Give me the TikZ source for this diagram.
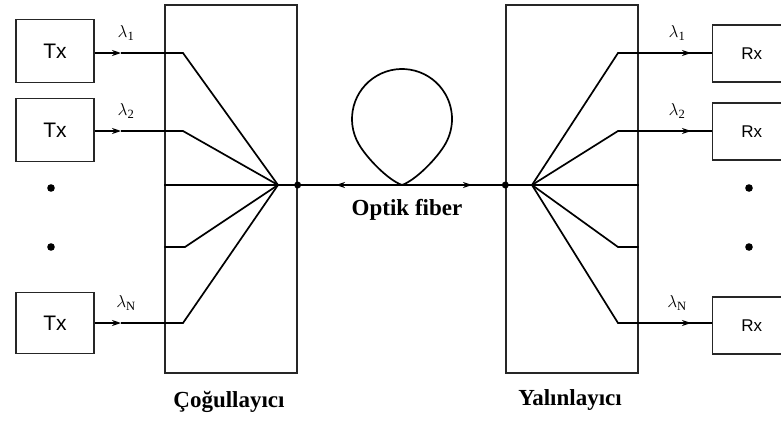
\documentclass[tikz,border=0pt]{standalone}
\usepackage{fontspec}
\setmainfont{Liberation Serif}
\newfontfamily\boxfont{Liberation Sans}
\usetikzlibrary{arrows.meta}
\tikzset{
  unitbox/.style={draw=black!85, line width=1.3pt, minimum width=78pt,
    inner sep=0pt, font=\boxfont\fontsize{21}{21}\selectfont},
  blockbox/.style={draw=black!85, line width=1.3pt, minimum width=132pt,
    minimum height=368pt, inner sep=0pt},
  fiber/.style={line width=1.7pt},
  tip/.style={fiber, -{Stealth[length=9pt,width=6pt]}},
  wave/.style={font=\fontsize{18}{18}\selectfont},
  caption/.style={font=\bfseries\fontsize{23}{23}\selectfont}
}
\begin{document}
\begin{tikzpicture}[x=1pt,y=-1pt]
    \useasboundingbox (0,0) rectangle (781,421);
    \clip (0,0) rectangle (781,421);
    % multiplexer and demultiplexer
    \node[blockbox] (mux) at (231,189) {};
    \node[blockbox] (demux) at (572,189) {};
    \node[caption] (muxname) at (229,402) {Çoğullayıcı};
    \node[caption] (demuxname) at (570,400) {Yalınlayıcı};
    \coordinate (mj) at (278,185);
    \coordinate (dj) at (532,185);
    \coordinate (md) at (mux.east |- mj);
    \coordinate (dd) at (demux.west |- dj);
    % transmitters
    \foreach \n/\y/\h in {1/51/63, 2/130/63, N/323/61} {
      \node[unitbox, minimum height=\h pt] (tx\n) at (55,\y) {Tx};
    }
    % receivers
    \foreach \n/\y in {1/53.5, 2/131.5, N/325.5} {
      \node[unitbox, minimum height=57pt, anchor=west,
        font=\boxfont\fontsize{17}{17}\selectfont] (rx\n) at (712,\y) {Rx};
    }
    % channels
    \foreach \n/\y in {1/53, 2/131, N/323} {
      \coordinate (ta\n) at (121,\y);
      \coordinate (ra\n) at (691,\y);
      \draw[tip] (tx\n.east |- ta\n) -- (ta\n);
      \draw[fiber] (ta\n) -- (183,\y) -- (mj);
      \draw[fiber] (dj) -- (618,\y) -- (ra\n);
      \draw[tip] (rx\n.west |- ra\n) ++(-30,0) -- (ra\n);
      \draw[fiber] (ra\n) -- (rx\n.west |- ra\n);
      \node[wave] (tl\n) at (126,{\y-20}) {$\lambda_{\mathrm{\n}}$};
      \node[wave] (rl\n) at (677,{\y-20}) {$\lambda_{\mathrm{\n}}$};
    }
    \draw[fiber] (mux.west |- mj) -- (mj);
    \draw[fiber] (mux.west |- 0,247) -- (185,247) -- (mj);
    \draw[fiber] (dj) -- (demux.east |- dj);
    \draw[fiber] (dj) -- (618,247) -- (demux.east |- 0,247);
    % fiber with loop
    \coordinate (fb) at (402,185);
    \coordinate (fl) at (336,185);
    \coordinate (fr) at (472,185);
    \draw[fiber] (md) -- (dj);
    \draw[fiber] (mj) -- (md);
    \draw[tip] (fb) -- (fl);
    \draw[tip] (fb) -- (fr);
    \draw[fiber] (fb) .. controls (388,180) and (366.7,158) .. (358.7,144)
      arc[start angle=150, end angle=390, radius=50]
      .. controls (437.3,158) and (416,180) .. (fb);
    \node[caption] (fibername) at (407,210) {Optik fiber};
    % dots
    \fill (md) circle (3.5pt);
    \fill (dd) circle (3.5pt);
    \foreach \y in {188,247} {
      \fill (51,\y) circle (3.8pt);
      \fill (749,\y) circle (3.8pt);
    }
  \end{tikzpicture}
\end{document}
